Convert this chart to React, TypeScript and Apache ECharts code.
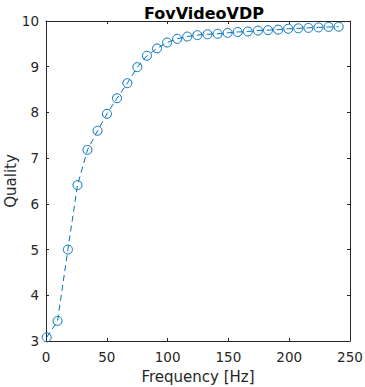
import React, { useEffect, useRef } from "react";
import * as echarts from "echarts";

const title = "FovVideoVDP";
const xName = "Frequency [Hz]";
const yName = "Quality";
const freq = [0.6, 9.5, 18, 25.9, 34.1, 42.4, 50.1, 58.4, 66.9, 75.1, 83.0, 91.3, 99.6, 107.9, 116.2, 124.5, 132.8, 141.1, 149.4, 157.7, 166.0, 174.3, 182.6, 190.9, 199.2, 207.5, 215.8, 224.1, 232.4, 240.7];
const quality = [3.08, 3.44, 5.0, 6.41, 7.18, 7.6, 7.97, 8.31, 8.64, 8.99, 9.24, 9.4, 9.53, 9.61, 9.66, 9.69, 9.71, 9.72, 9.74, 9.76, 9.77, 9.79, 9.8, 9.81, 9.83, 9.84, 9.85, 9.86, 9.87, 9.875];

const TXT = "#262626";
const LINE = "#0072BD";
const FONT = "DejaVu Sans";

export default function App() {
  const ref = useRef<HTMLDivElement>(null);
  useEffect(() => {
    if (!ref.current) return;
    const chart = echarts.init(ref.current, null, { renderer: "svg" });
    const axisCommon = {
      type: "value" as const,
      axisLine: { show: true, onZero: false, lineStyle: { color: TXT, width: 1 } },
      axisTick: { show: true, inside: true, length: 3, lineStyle: { color: TXT } },
      splitLine: { show: false },
    };
    chart.setOption({
      animation: false,
      backgroundColor: "#ffffff",
      textStyle: { fontFamily: FONT },
      title: {
        text: title,
        left: 199,
        textAlign: "center",
        top: 0,
        textStyle: { fontFamily: FONT, fontSize: 16, fontWeight: "bold", color: "#000" },
      },
      grid: { left: 46, right: 15, top: 21, bottom: 46, containLabel: false, outerBoundsMode: "none" },
      xAxis: [
        {
          ...axisCommon,
          position: "bottom",
          min: 0,
          max: 250,
          interval: 50,
          name: xName,
          nameLocation: "middle",
          nameGap: 28,
          nameTextStyle: { fontFamily: FONT, fontSize: 15, color: TXT },
          axisLabel: { fontFamily: FONT, fontSize: 13.5, color: TXT, margin: 9 },
        },
        {
          ...axisCommon,
          position: "top",
          min: 0,
          max: 250,
          interval: 50,
          axisLabel: { show: false },
        },
      ],
      yAxis: [
        {
          ...axisCommon,
          position: "left",
          min: 3,
          max: 10,
          interval: 1,
          name: yName,
          nameLocation: "middle",
          nameGap: 28,
          nameMoveOverlap: false,
          nameTextStyle: { fontFamily: FONT, fontSize: 15, color: TXT },
          axisLabel: { fontFamily: FONT, fontSize: 13.5, color: TXT, margin: 7 },
        },
        {
          ...axisCommon,
          position: "right",
          min: 3,
          max: 10,
          interval: 1,
          axisLabel: { show: false },
        },
      ],
      series: [
        {
          type: "line",
          data: freq.map((f, i) => [f, quality[i]]),
          xAxisIndex: 0,
          yAxisIndex: 0,
          symbol: "circle",
          symbolSize: 9,
          showSymbol: true,
          lineStyle: { color: LINE, width: 1, type: [6, 4] },
          itemStyle: { color: "rgba(0,0,0,0)", borderColor: LINE, borderWidth: 1 },
          clip: false,
        },
      ],
    });
    return () => chart.dispose();
  }, []);
  return <div ref={ref} style={{ width: 365, height: 387, position: "absolute", left: 0, top: 0 }} />;
}
